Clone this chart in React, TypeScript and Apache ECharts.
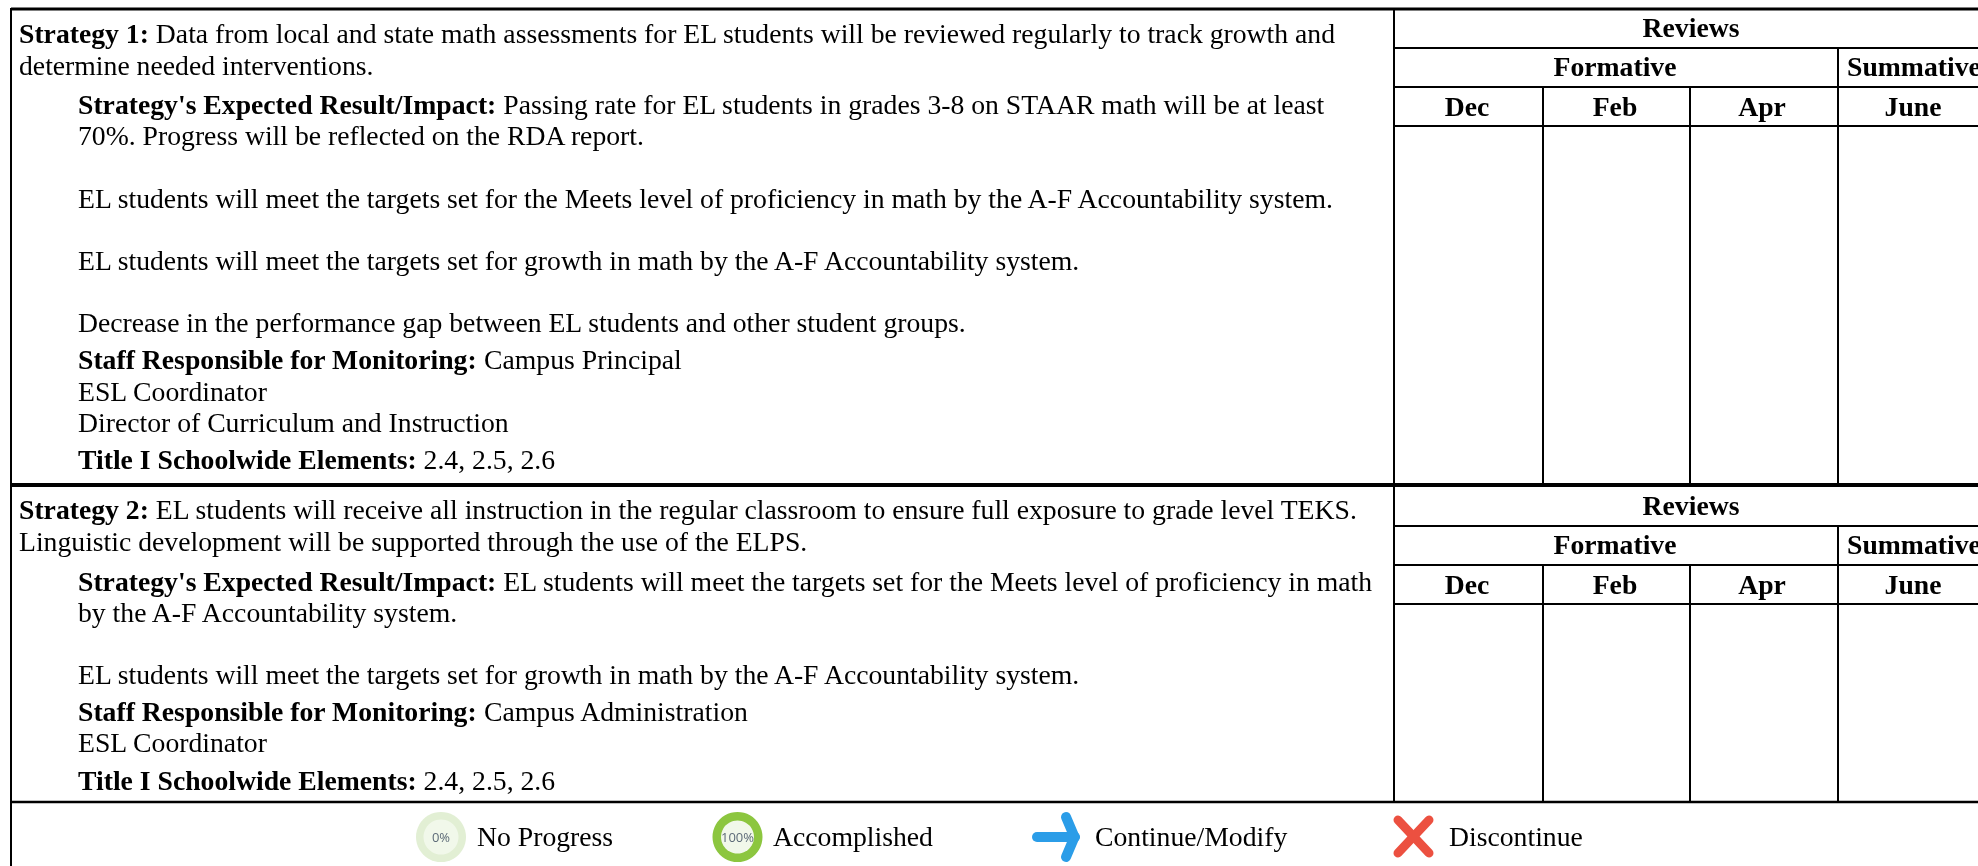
import React, { useEffect, useRef } from "react";
import * as echarts from "echarts";

const WIDTH = 1978;
const HEIGHT = 866;
const FONT = '"Liberation Serif", "Times New Roman", serif';
const FS = 27.7;

// Text lines: [bold lead, regular remainder]
const block1Lines: [string, string][] = [
  ["Strategy 1:", " Data from local and state math assessments for EL students will be reviewed regularly to track growth and"],
  ["", "determine needed interventions."],
  ["Strategy's Expected Result/Impact:", " Passing rate for EL students in grades 3-8 on STAAR math will be at least"],
  ["", "70%. Progress will be reflected on the RDA report."],
  ["", "EL students will meet the targets set for the Meets level of proficiency in math by the A-F Accountability system."],
  ["", "EL students will meet the targets set for growth in math by the A-F Accountability system."],
  ["", "Decrease in the performance gap between EL students and other student groups."],
  ["Staff Responsible for Monitoring:", " Campus Principal"],
  ["", "ESL Coordinator"],
  ["", "Director of Curriculum and Instruction"],
  ["Title I Schoolwide Elements:", " 2.4, 2.5, 2.6"],
];
const block2Lines: [string, string][] = [
  ["Strategy 2:", " EL students will receive all instruction in the regular classroom to ensure full exposure to grade level TEKS."],
  ["", "Linguistic development will be supported through the use of the ELPS."],
  ["Strategy's Expected Result/Impact:", " EL students will meet the targets set for the Meets level of proficiency in math"],
  ["", "by the A-F Accountability system."],
  ["", "EL students will meet the targets set for growth in math by the A-F Accountability system."],
  ["Staff Responsible for Monitoring:", " Campus Administration"],
  ["", "ESL Coordinator"],
  ["Title I Schoolwide Elements:", " 2.4, 2.5, 2.6"],
];
const reviewsTitle = "Reviews";
const formativeTitle = "Formative";
const summativeTitle = "Summative";
const months = ["Dec", "Feb", "Apr", "June"];
const legendLabels = ["No Progress", "Accomplished", "Continue/Modify", "Discontinue"];
const ringLabels = ["0%", "100%"];

// Layout
const block1Y = [33, 65, 104, 135, 198, 260, 322, 359, 391, 422, 459];
const block1X = [19, 19, 78, 78, 78, 78, 78, 78, 78, 78, 78];
const block2Y = [509, 541, 581, 612, 674, 711, 742, 780];
const block2X = [19, 19, 78, 78, 78, 78, 78, 78];
const colX = [1394, 1543, 1690, 1838];
const monthX = [1467, 1615, 1762, 1913];

function App() {
  const ref = useRef<HTMLDivElement>(null);
  useEffect(() => {
    const chart = echarts.init(ref.current!, undefined, { renderer: "svg" });
    const black = "#000";
    const line = (x1: number, y1: number, x2: number, y2: number, w = 2) => ({
      type: "line",
      shape: { x1, y1, x2, y2 },
      style: { stroke: black, lineWidth: w },
    });
    const rich = (x: number, y: number, bold: string, rest: string) => ({
      type: "text",
      x,
      y,
      style: {
        text: (bold ? `{b|${bold}}` : "") + `{r|${rest}}`,
        fontFamily: FONT,
        fontSize: FS,
        fill: black,
        verticalAlign: "middle",
        align: "left",
        rich: {
          b: { fontFamily: FONT, fontSize: FS, fontWeight: "bold", fill: black },
          r: { fontFamily: FONT, fontSize: FS, fill: black },
        },
      },
    });
    const center = (x: number, y: number, text: string) => ({
      type: "text",
      x,
      y,
      style: {
        text,
        fontFamily: FONT,
        fontSize: FS,
        fontWeight: "bold",
        fill: black,
        align: "center",
        verticalAlign: "middle",
      },
    });
    const plain = (x: number, y: number, text: string, bold = false) => ({
      type: "text",
      x,
      y,
      style: {
        text,
        fontFamily: FONT,
        fontSize: FS,
        fontWeight: bold ? "bold" : "normal",
        fill: black,
        align: "left",
        verticalAlign: "middle",
      },
    });
    const header = (top: number, bottom: number) => [
      line(colX[0], top + 39, WIDTH, top + 39),
      line(colX[0], top + 78, WIDTH, top + 78),
      line(colX[0], top + 117, WIDTH, top + 117, 2),
      line(colX[3], top + 39, colX[3], bottom),
      line(colX[1], top + 78, colX[1], bottom),
      line(colX[2], top + 78, colX[2], bottom),
      center(1691, top + 18, reviewsTitle),
      center(1615, top + 57, formativeTitle),
      plain(1847, top + 57, summativeTitle, true),
      ...months.map((m, i) => center(monthX[i], top + 97, m)),
    ];
    const ring = (cx: number, outer: string, inner: string, r: number, label: string, fs: number) => [
      { type: "circle", shape: { cx, cy: 837, r: 25 }, style: { fill: outer } },
      { type: "circle", shape: { cx, cy: 837, r }, style: { fill: inner } },
      {
        type: "text",
        x: cx,
        y: 837,
        style: { text: label, fontFamily: '"Open Sans", sans-serif', fontSize: fs, fill: "#5d6b78", align: "center", verticalAlign: "middle" },
      },
    ];
    const elements: any[] = [
      { type: "rect", shape: { x: 0, y: 0, width: WIDTH, height: HEIGHT }, style: { fill: "#fff" } },
      line(11, 9, WIDTH, 9, 3),
      line(11, 8, 11, HEIGHT, 2),
      line(colX[0], 9, colX[0], 801),
      line(11, 485, WIDTH, 485, 4),
      line(11, 802, WIDTH, 802, 2.5),
      ...header(9, 484),
      ...header(487, 802),
      ...block1Lines.map((l, i) => rich(block1X[i], block1Y[i], l[0], l[1])),
      ...block2Lines.map((l, i) => rich(block2X[i], block2Y[i], l[0], l[1])),
      ...ring(441, "#e2efd4", "#f1f8ea", 17.5, ringLabels[0], 13),
      plain(477, 836, legendLabels[0]),
      ...ring(737.5, "#8cc63f", "#f1f8ea", 16.5, ringLabels[1], 13),
      plain(773, 836, legendLabels[1]),
      {
        type: "polyline",
        shape: { points: [[1037, 837], [1075, 837]] },
        style: { stroke: "#2b9de8", lineWidth: 10, lineCap: "round", fill: "none" },
      },
      {
        type: "polyline",
        shape: { points: [[1066, 817], [1074.5, 837], [1066, 857]] },
        style: { stroke: "#2b9de8", lineWidth: 10, lineCap: "round", lineJoin: "miter", fill: "none" },
      },
      plain(1095, 836, legendLabels[2]),
      {
        type: "line",
        shape: { x1: 1398, y1: 820, x2: 1429, y2: 853 },
        style: { stroke: "#ec5040", lineWidth: 9, lineCap: "round" },
      },
      {
        type: "line",
        shape: { x1: 1429, y1: 820, x2: 1398, y2: 853 },
        style: { stroke: "#ec5040", lineWidth: 9, lineCap: "round" },
      },
      plain(1449, 836, legendLabels[3]),
    ];
    chart.setOption({ animation: false, graphic: { elements } });
    return () => chart.dispose();
  }, []);
  return <div ref={ref} style={{ width: WIDTH, height: HEIGHT, position: "fixed", left: 0, top: 0 }} />;
}

export default App;
